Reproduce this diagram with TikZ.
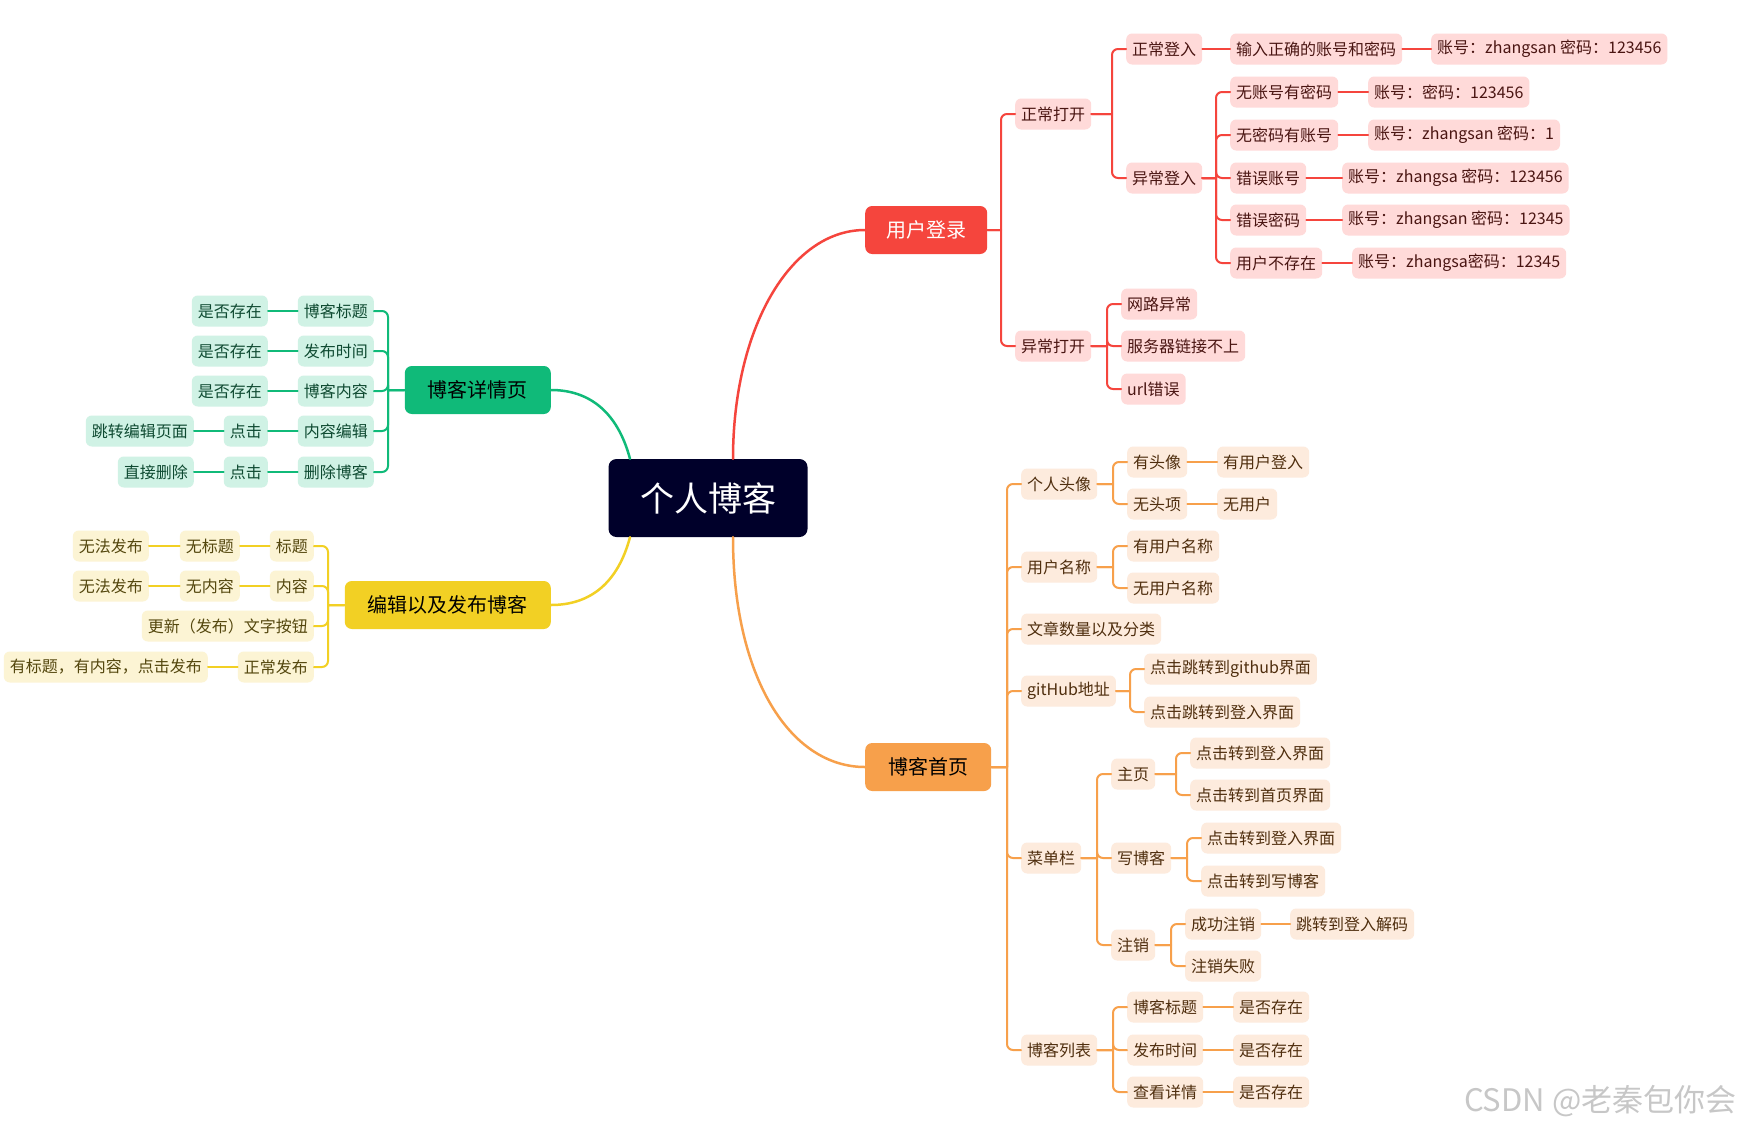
\documentclass[tikz,border=0pt]{standalone}
\usepackage{fontspec}
\setmainfont{Noto Sans CJK SC}
\usetikzlibrary{calc}

\definecolor{rootbg}{HTML}{00002A}
\definecolor{redmain}{HTML}{F5453D}
\definecolor{redlite}{HTML}{FFDAD9}
\definecolor{redtext}{HTML}{4A1512}
\definecolor{orgmain}{HTML}{F7A04B}
\definecolor{orglite}{HTML}{FDEBDD}
\definecolor{orgtext}{HTML}{4F2E0E}
\definecolor{grnmain}{HTML}{10BA79}
\definecolor{grnlite}{HTML}{D0F2E5}
\definecolor{grntext}{HTML}{0E4A31}
\definecolor{ylwmain}{HTML}{F2D024}
\definecolor{ylwlite}{HTML}{FCF4D4}
\definecolor{ylwtext}{HTML}{54470E}

\begin{document}
\begin{tikzpicture}
  [x=1pt,y=-1pt,
   leaf/.style={rounded corners=6pt,minimum height=31pt,inner xsep=6pt,inner ysep=2pt,font=\fontsize{16}{19}\selectfont},
   rleaf/.style={leaf,fill=redlite,text=redtext,anchor=west},
   oleaf/.style={leaf,fill=orglite,text=orgtext,anchor=west},
   gleaf/.style={leaf,fill=grnlite,text=grntext,anchor=east},
   yleaf/.style={leaf,fill=ylwlite,text=ylwtext,anchor=east},
   main/.style={rounded corners=7pt,minimum height=48pt,inner xsep=21pt,font=\fontsize{20}{24}\selectfont},
   rline/.style={draw=redmain,line width=2pt,line cap=round,rounded corners=6pt},
   oline/.style={draw=orgmain,line width=2pt,line cap=round,rounded corners=6pt},
   gline/.style={draw=grnmain,line width=2pt,line cap=round,rounded corners=6pt},
   yline/.style={draw=ylwmain,line width=2pt,line cap=round,rounded corners=6pt}]
  \useasboundingbox[fill=white] (0,0) rectangle (1746,1130);

  \node[rounded corners=8pt,fill=rootbg,text=white,minimum width=199pt,minimum height=78pt,
        font=\fontsize{34}{40}\selectfont] (root) at (708,498) {个人博客};

  % user login
  \node[main,fill=redmain,text=white,anchor=west] (login) at (865,230) {用户登录};
  \node[rleaf] (zcdk) at (1015,114) {正常打开};
  \node[rleaf] (yckd) at (1015,346) {异常打开};
  \node[rleaf] (zcdr) at (1126,49) {正常登入};
  \node[rleaf] (ycdr) at (1126,178) {异常登入};
  \node[rleaf] (srzq) at (1230,49) {输入正确的账号和密码};
  \node[rleaf] (zh1) at (1431,49) {账号：zhangsan 密码：123456};
  \node[rleaf] (wzh) at (1230,92) {无账号有密码};
  \node[rleaf] (zh2) at (1368,92) {账号：密码：123456};
  \node[rleaf] (wmm) at (1230,135) {无密码有账号};
  \node[rleaf] (zh3) at (1368,135) {账号：zhangsan 密码：1};
  \node[rleaf] (cwzh) at (1230,178) {错误账号};
  \node[rleaf] (zh4) at (1342,178) {账号：zhangsa 密码：123456};
  \node[rleaf] (cwmm) at (1230,220) {错误密码};
  \node[rleaf] (zh5) at (1342,220) {账号：zhangsan 密码：12345};
  \node[rleaf] (bcz) at (1230,263) {用户不存在};
  \node[rleaf] (zh6) at (1352,263) {账号：zhangsa密码：12345};
  \node[rleaf] (wlyc) at (1121,304) {网路异常};
  \node[rleaf] (fwq) at (1121,346) {服务器链接不上};
  \node[rleaf] (url) at (1121,389) {url错误};

  % blog home
  \node[main,fill=orgmain,text=black,anchor=west,inner xsep=23pt] (home) at (865,767) {博客首页};
  \node[oleaf] (grtx) at (1021,484) {个人头像};
  \node[oleaf] (yhmc) at (1021,567) {用户名称};
  \node[oleaf] (wzsl) at (1021,629) {文章数量以及分类};
  \node[oleaf] (gith) at (1021,691) {gitHub地址};
  \node[oleaf] (cdl) at (1021,858) {菜单栏};
  \node[oleaf] (bklb) at (1021,1050) {博客列表};
  \node[oleaf] (ytx) at (1127,462) {有头像};
  \node[oleaf] (wtx) at (1127,504) {无头项};
  \node[oleaf] (yyhdr) at (1217,462) {有用户登入};
  \node[oleaf] (wyh) at (1217,504) {无用户};
  \node[oleaf] (yyhmc) at (1127,546) {有用户名称};
  \node[oleaf] (wyhmc) at (1127,588) {无用户名称};
  \node[oleaf] (gh1) at (1144,669) {点击跳转到github界面};
  \node[oleaf] (gh2) at (1144,712) {点击跳转到登入界面};
  \node[oleaf] (zy) at (1111,774) {主页};
  \node[oleaf] (xbk) at (1111,858) {写博客};
  \node[oleaf] (zx) at (1111,945) {注销};
  \node[oleaf] (zy1) at (1190,753) {点击转到登入界面};
  \node[oleaf] (zy2) at (1190,795) {点击转到首页界面};
  \node[oleaf] (xb1) at (1201,838) {点击转到登入界面};
  \node[oleaf] (xb2) at (1201,881) {点击转到写博客};
  \node[oleaf] (cgzx) at (1185,924) {成功注销};
  \node[oleaf] (zxsb) at (1185,966) {注销失败};
  \node[oleaf] (tzjm) at (1290,924) {跳转到登入解码};
  \node[oleaf] (lb1) at (1127,1007) {博客标题};
  \node[oleaf] (lb2) at (1127,1050) {发布时间};
  \node[oleaf] (lb3) at (1127,1092) {查看详情};
  \node[oleaf] (cz1) at (1233,1007) {是否存在};
  \node[oleaf] (cz2) at (1233,1050) {是否存在};
  \node[oleaf] (cz3) at (1233,1092) {是否存在};

  % detail page
  \node[main,fill=grnmain,text=black,anchor=east,inner xsep=23pt] (detail) at (551,390) {博客详情页};
  \node[gleaf] (xq1) at (374,311) {博客标题};
  \node[gleaf] (xq2) at (374,351) {发布时间};
  \node[gleaf] (xq3) at (374,391) {博客内容};
  \node[gleaf] (xq4) at (374,431) {内容编辑};
  \node[gleaf] (xq5) at (374,472) {删除博客};
  \node[gleaf] (gcz1) at (268,311) {是否存在};
  \node[gleaf] (gcz2) at (268,351) {是否存在};
  \node[gleaf] (gcz3) at (268,391) {是否存在};
  \node[gleaf] (dj1) at (268,431) {点击};
  \node[gleaf] (dj2) at (268,472) {点击};
  \node[gleaf] (tzbj) at (194,431) {跳转编辑页面};
  \node[gleaf] (zjsc) at (194,472) {直接删除};

  % edit and publish
  \node[main,fill=ylwmain,text=black,anchor=east,inner xsep=23pt] (edit) at (551,605) {编辑以及发布博客};
  \node[yleaf] (bt) at (314,546) {标题};
  \node[yleaf] (nr) at (314,586) {内容};
  \node[yleaf] (gx) at (314,626) {更新（发布）文字按钮};
  \node[yleaf] (zcfb) at (314,667) {正常发布};
  \node[yleaf] (wbt) at (240,546) {无标题};
  \node[yleaf] (wnr) at (240,586) {无内容};
  \node[yleaf] (wf1) at (149,546) {无法发布};
  \node[yleaf] (wf2) at (149,586) {无法发布};
  \node[yleaf] (ybt) at (208,667) {有标题，有内容，点击发布};

  \node[text=black!22,font=\fontsize{31}{36}\selectfont,anchor=east] (wm) at (1740,1101) {CSDN @老秦包你会};

  \draw[rline,line width=2.5pt] ([xshift=25pt]root.north) .. controls +(0,-130) and +(-75,0) .. (login.west);
  \draw[oline,line width=2.5pt] ([xshift=25pt]root.south) .. controls +(0,140) and +(-75,0) .. (home.west);
  \draw[gline,line width=2.5pt] ([xshift=-78pt]root.north) .. controls +(-12,-45) and +(40,0) .. (detail.east);
  \draw[yline,line width=2.5pt] ([xshift=-78pt]root.south) .. controls +(-12,45) and +(40,0) .. (edit.east);

  \foreach \from/\to in {login/zcdk, login/yckd, zcdk/zcdr, zcdk/ycdr, ycdr/wzh, ycdr/wmm,
                         ycdr/cwzh, ycdr/cwmm, ycdr/bcz, yckd/wlyc, yckd/fwq, yckd/url}
  \draw[rline] (\from.east) -- ($(\from.east -| \to.west)+(-14,0)$)
               ($(\from.east -| \to.west)+(-14,0)$) |- (\to.west);
  \foreach \from/\to in {zcdr/srzq, srzq/zh1, wzh/zh2, wmm/zh3, cwzh/zh4, cwmm/zh5, bcz/zh6}
  \draw[rline] (\from.east) -- (\to.west);

  \foreach \from/\to in {home/grtx, home/yhmc, home/wzsl, home/gith, home/cdl, home/bklb,
                         grtx/ytx, grtx/wtx, yhmc/yyhmc, yhmc/wyhmc, gith/gh1, gith/gh2,
                         cdl/zy, cdl/xbk, cdl/zx, zy/zy1, zy/zy2, xbk/xb1, xbk/xb2,
                         zx/cgzx, zx/zxsb, bklb/lb1, bklb/lb2, bklb/lb3}
  \draw[oline] (\from.east) -- ($(\from.east -| \to.west)+(-14,0)$)
               ($(\from.east -| \to.west)+(-14,0)$) |- (\to.west);
  \foreach \from/\to in {ytx/yyhdr, wtx/wyh, cgzx/tzjm, lb1/cz1, lb2/cz2, lb3/cz3}
  \draw[oline] (\from.east) -- (\to.west);

  \foreach \from/\to in {detail/xq1, detail/xq2, detail/xq3, detail/xq4, detail/xq5}
  \draw[gline] (\from.west) -- ($(\from.west -| \to.east)+(14,0)$)
               ($(\from.west -| \to.east)+(14,0)$) |- (\to.east);
  \foreach \from/\to in {xq1/gcz1, xq2/gcz2, xq3/gcz3, xq4/dj1, dj1/tzbj, xq5/dj2, dj2/zjsc}
  \draw[gline] (\from.west) -- (\to.east);

  \foreach \from/\to in {edit/bt, edit/nr, edit/gx, edit/zcfb}
  \draw[yline] (\from.west) -- ($(\from.west -| \to.east)+(14,0)$)
               ($(\from.west -| \to.east)+(14,0)$) |- (\to.east);
  \foreach \from/\to in {bt/wbt, wbt/wf1, nr/wnr, wnr/wf2, zcfb/ybt}
  \draw[yline] (\from.west) -- (\to.east);
\end{tikzpicture}
\end{document}
